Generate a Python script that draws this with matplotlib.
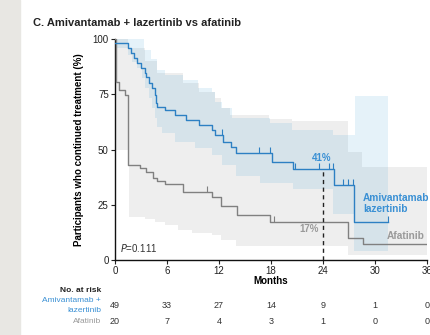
import numpy as np
import matplotlib
matplotlib.use("Agg")
import matplotlib.pyplot as plt
import matplotlib.transforms as mtransforms
from matplotlib.patches import Rectangle

plt.rcParams['font.family'] = ['Liberation Sans', 'DejaVu Sans']

# Kaplan-Meier curves: value holds from t[i] until t[i+1]
ami_t = [0, 1.5, 1.88, 2.15, 2.54, 3.04, 3.5, 3.6, 3.88, 4.27, 4.58, 4.77, 4.85,
         5.8, 6.96, 8.19, 9.73, 11.2, 11.57, 12.45, 13.4, 13.95, 18.07, 20.57,
         25.3, 27.57]
ami_s = [98, 95.8, 93.5, 91.3, 89.0, 86.7, 84.5, 82.9, 80.0, 77.7, 74.7, 70.9, 69.4,
         67.9, 65.6, 63.3, 61.1, 58.8, 56.5, 53.2, 51.2, 48.6, 44.2, 41.0,
         33.9, 17.0]
ami_end = 31.5
ami_cens = [12.4, 16.6, 17.9, 20.8, 23.5, 24.7, 25.1, 26.3, 26.9, 27.45, 31.5]

afa_t = [0, 0.15, 0.5, 1.1, 1.5, 2.88, 3.57, 4.35, 4.88, 5.77, 7.88, 11.15,
         12.2, 14.1, 17.9, 26.9, 28.6]
afa_s = [100, 80.7, 76.9, 74.7, 43.0, 41.5, 39.7, 37.0, 35.9, 34.4, 30.9, 28.5,
         24.3, 20.4, 17.3, 9.8, 7.1]
afa_end = 36
afa_cens = [10.57, 18.3]

# confidence bands
ami_up_t = [0, 3.3, 4.2, 4.8, 5.8, 7.9, 9.6, 11.2, 11.5, 12.3, 13.5, 17.9, 20.4,
            25.2, 27.7]
ami_up_v = [100, 95, 91, 86, 83.7, 81.5, 78, 76, 71.6, 68.6, 64.4, 61.8, 58.8,
            56.6, 74.2]
ami_lo_t = [0, 1.5, 1.96, 2.54, 3.1, 3.5, 3.9, 4.27, 4.65, 4.85, 5.4, 6.96, 9.27,
            11.2, 12.3, 14, 16.7, 20.5, 25.2, 27.6]
ami_lo_v = [95.8, 92.8, 89.7, 86.7, 82.2, 77.7, 73.2, 68.6, 64.1, 60.3, 57.3, 53.5,
            50.5, 47.5, 43, 38, 35, 32, 21, 4.2]

afa_up_t = [0, 1.5, 3.5, 4.8, 7.9, 9.7, 11.5, 12.2, 13.3, 17.8, 20.4, 26.9, 28.5]
afa_up_v = [100, 96, 90, 84.5, 80, 76, 73.2, 68.6, 65.6, 64, 63, 49, 42]
afa_lo_t = [0, 1.58, 3.5, 4.65, 5.8, 7.3, 8.9, 11.2, 12.2, 14, 26.9]
afa_lo_v = [50, 19.6, 18.6, 17.3, 15.8, 13.6, 12.1, 11.3, 9, 6.5, 2.3]

months = [0, 6, 12, 18, 24, 30, 36]
ami_risk = [49, 33, 27, 14, 9, 1, 0]
afa_risk = [20, 7, 4, 3, 1, 0, 0]

blue = '#2d80c3'
blue_txt = '#3a90d4'
grey = '#808080'
grey_txt = '#9a9a9a'


def steps(t, v, end):
    xs, ys = [], []
    for i in range(len(t)):
        x1 = t[i + 1] if i + 1 < len(t) else end
        xs += [t[i], x1]
        ys += [v[i], v[i]]
    return np.array(xs), np.array(ys)


def step_at(t, v, x):
    i = np.searchsorted(t, x, side='right') - 1
    return v[i]


fig = plt.figure(figsize=(4.31, 3.35), dpi=100)
fig.patches.append(Rectangle((0, 0), 20 / 431, 1, transform=fig.transFigure,
                             color='#e8e7e3', zorder=0))
ax = fig.add_axes([115 / 431, 1 - 260 / 335, 312 / 431, 221 / 335])

xu, yu = steps(afa_up_t, afa_up_v, afa_end)
xl, yl = steps(afa_lo_t, afa_lo_v, afa_end)
ax.fill(np.r_[xu, xl[::-1]], np.r_[yu, yl[::-1]], color='#eeeeee', lw=0, zorder=1)

xu, yu = steps(ami_up_t, ami_up_v, ami_end)
xl, yl = steps(ami_lo_t, ami_lo_v, ami_end)
ax.fill(np.r_[xu, xl[::-1]], np.r_[yu, yl[::-1]], color='#1a8fd0', alpha=0.11,
        lw=0, zorder=2)

x, y = steps(afa_t, afa_s, afa_end)
ax.plot(x, y, color=grey, lw=1.0, zorder=3)
ax.plot(afa_cens, [step_at(afa_t, afa_s, c) for c in afa_cens], ls='none',
        marker=2, ms=4, mew=0.8, color=grey, zorder=3)

x, y = steps(ami_t, ami_s, ami_end)
ax.plot(x, y, color=blue, lw=1.0, zorder=4)
ax.plot(ami_cens, [step_at(ami_t, ami_s, c) for c in ami_cens], ls='none',
        marker=2, ms=4, mew=0.8, color=blue, zorder=4)

ax.plot([24, 24], [0, step_at(ami_t, ami_s, 24)], color='#222222', lw=1.0,
        ls=(0, (3, 2.5)), zorder=5)

ax.text(23.85, 46.2, '41%', color=blue_txt, fontsize=7, fontweight='bold',
        ha='center', va='center')
ax.text(23.5, 14.0, '17%', color=grey_txt, fontsize=7, fontweight='bold',
        ha='right', va='center')
ax.text(28.6, 25.6, 'Amivantamab\nlazertinib', color=blue_txt, fontsize=7.3,
        fontweight='bold', ha='left', va='center', linespacing=1.1)
ax.text(31.4, 10.9, 'Afatinib', color=grey_txt, fontsize=7.3, fontweight='bold',
        ha='left', va='center')
ax.text(0.6, 5.4, r'$\it{P}$=0.111', color='#333333', fontsize=7,
        ha='left', va='center')

ax.set_xlim(0, 36)
ax.set_ylim(0, 100)
ax.set_xticks(months)
ax.set_yticks([0, 25, 50, 75, 100])
ax.tick_params(labelsize=7, length=3, width=0.8, colors='#222222', pad=1.5)
for s in ['top', 'right']:
    ax.spines[s].set_visible(False)
for s in ['left', 'bottom']:
    ax.spines[s].set_linewidth(1.0)
    ax.spines[s].set_color('#111111')
ax.set_facecolor('none')
ax.set_xlabel('Months', fontsize=7, fontweight='bold', labelpad=0)
ax.set_ylabel('Participants who continued treatment (%)', fontsize=7,
              fontweight='bold', labelpad=6)

fig.text(33 / 431, 1 - 23 / 335, 'C. Amivantamab + lazertinib vs afatinib',
         fontsize=8, fontweight='bold', color='#222222', ha='left', va='center')

# number at risk table
trans = mtransforms.blended_transform_factory(ax.transData, fig.transFigure)
lx = 101 / 431
fig.text(lx, 1 - 290 / 335, 'No. at risk', fontsize=6, fontweight='bold',
         ha='right', va='center', color='#222222')
fig.text(lx, 1 - 300 / 335, 'Amivantamab +', fontsize=6, ha='right',
         va='center', color=blue_txt)
fig.text(lx, 1 - 310 / 335, 'lazertinib', fontsize=6, ha='right',
         va='center', color=blue_txt)
fig.text(lx, 1 - 321.7 / 335, 'Afatinib', fontsize=6, ha='right',
         va='center', color=grey_txt)
for m, a, b in zip(months, ami_risk, afa_risk):
    ax.text(m, 1 - 306 / 335, str(a), transform=trans, fontsize=6.5,
            ha='center', va='center', color='#333333', clip_on=False)
    ax.text(m, 1 - 321.7 / 335, str(b), transform=trans, fontsize=6.5,
            ha='center', va='center', color='#333333', clip_on=False)

fig.savefig('out.png', dpi=100)
